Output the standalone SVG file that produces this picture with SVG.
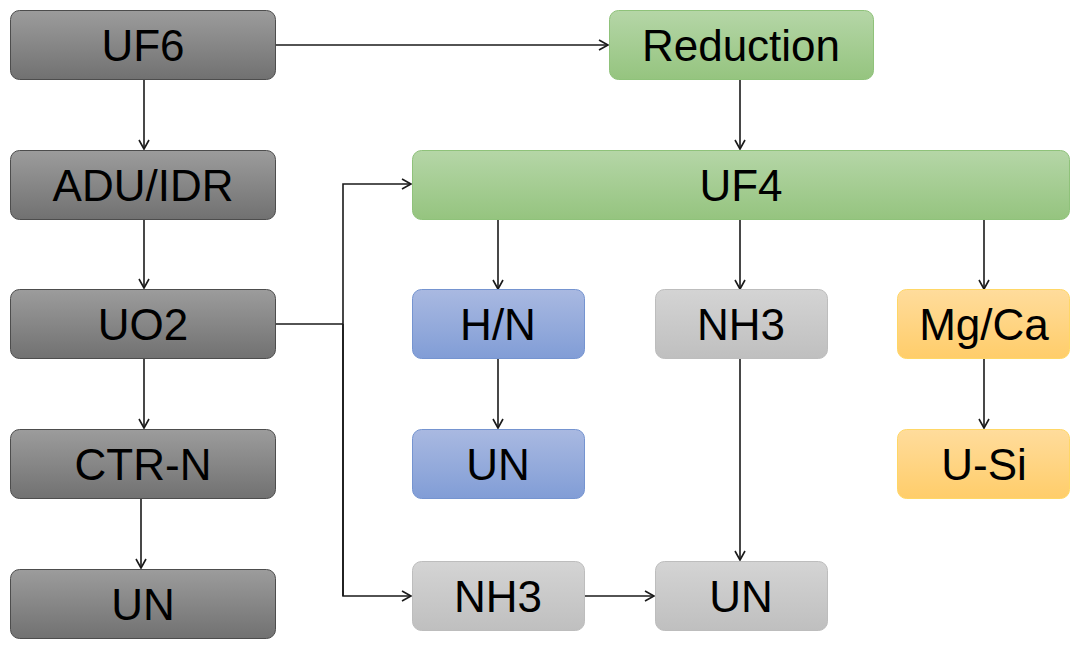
<svg xmlns="http://www.w3.org/2000/svg" width="1073" height="649" viewBox="0 0 1073 649">
<style>
text{font-family:"Liberation Sans",Arial,sans-serif;font-size:44px;fill:#000;text-anchor:middle}
.dark{fill:url(#gDark);stroke:#4d4d4d;stroke-width:1}
.green{fill:url(#gGreen);stroke:#8fc27a;stroke-width:1}
.blue{fill:url(#gBlue);stroke:#7594d0;stroke-width:1}
.grey{fill:url(#gGrey);stroke:#bdbdbd;stroke-width:1}
.orange{fill:url(#gOrange);stroke:#ffd766;stroke-width:1}
.edge{fill:none;stroke:#1a1a1a;stroke-width:1.6}
.arr{fill:none;stroke:#1a1a1a;stroke-width:1.6;marker-end:url(#ah)}
</style>
<defs>
<linearGradient id="gDark" x1="0" y1="0" x2="0" y2="1"><stop offset="0" stop-color="#9c9c9c"/><stop offset="1" stop-color="#717171"/></linearGradient>
<linearGradient id="gGreen" x1="0" y1="0" x2="0" y2="1"><stop offset="0" stop-color="#b5d6a7"/><stop offset="1" stop-color="#95c47f"/></linearGradient>
<linearGradient id="gBlue" x1="0" y1="0" x2="0" y2="1"><stop offset="0" stop-color="#a9b9e1"/><stop offset="1" stop-color="#819dd6"/></linearGradient>
<linearGradient id="gGrey" x1="0" y1="0" x2="0" y2="1"><stop offset="0" stop-color="#d4d4d4"/><stop offset="1" stop-color="#bfbfbf"/></linearGradient>
<linearGradient id="gOrange" x1="0" y1="0" x2="0" y2="1"><stop offset="0" stop-color="#ffdc9c"/><stop offset="1" stop-color="#ffcd6a"/></linearGradient>
<marker id="ah" markerWidth="12" markerHeight="12" refX="10" refY="6" orient="auto" markerUnits="userSpaceOnUse">
<path d="M1,1 L10,6 L1,11" fill="none" stroke="#1a1a1a" stroke-width="1.6"/>
</marker>
</defs>
<g id="connectors">
<path class="arr" d="M276,45 H608"/>
<path class="arr" d="M144,80 V149"/>
<path class="arr" d="M144,219 V288"/>
<path class="arr" d="M144,358 V428"/>
<path class="arr" d="M141,498 V568"/>
<path class="edge" d="M276,324 H343"/>
<path class="arr" d="M343,596 V184 H411"/>
<path class="arr" d="M343,324 V596 H411"/>
<path class="arr" d="M740,79 V149"/>
<path class="arr" d="M498,219 V289"/>
<path class="arr" d="M740,219 V289"/>
<path class="arr" d="M984,219 V289"/>
<path class="arr" d="M498,358 V428"/>
<path class="arr" d="M740,358 V560"/>
<path class="arr" d="M984,358 V428"/>
<path class="arr" d="M585,596 H654"/>
</g>
<g id="n-uf6"><rect class="dark" x="10.5" y="10.5" width="265" height="69" rx="9"/><text x="143" y="61">UF6</text></g>
<g id="n-adu"><rect class="dark" x="10.5" y="150.5" width="265" height="69" rx="9"/><text x="143" y="201">ADU/IDR</text></g>
<g id="n-uo2"><rect class="dark" x="10.5" y="289.5" width="265" height="69" rx="9"/><text x="143" y="340">UO2</text></g>
<g id="n-ctrn"><rect class="dark" x="10.5" y="429.5" width="265" height="69" rx="9"/><text x="143" y="480">CTR-N</text></g>
<g id="n-un1"><rect class="dark" x="10.5" y="569.5" width="265" height="69" rx="9"/><text x="143" y="620">UN</text></g>
<g id="n-red"><rect class="green" x="609.5" y="10.5" width="264" height="69" rx="9"/><text x="741" y="61">Reduction</text></g>
<g id="n-uf4"><rect class="green" x="412.5" y="150.5" width="657" height="69" rx="9"/><text x="741" y="201">UF4</text></g>
<g id="n-hn"><rect class="blue" x="412.5" y="289.5" width="172" height="69" rx="9"/><text x="498" y="340">H/N</text></g>
<g id="n-nh3a"><rect class="grey" x="655.5" y="289.5" width="172" height="69" rx="9"/><text x="741" y="340">NH3</text></g>
<g id="n-mgca"><rect class="orange" x="897.5" y="289.5" width="172" height="69" rx="9"/><text x="984" y="340">Mg/Ca</text></g>
<g id="n-un2"><rect class="blue" x="412.5" y="429.5" width="172" height="69" rx="9"/><text x="498" y="480">UN</text></g>
<g id="n-usi"><rect class="orange" x="897.5" y="429.5" width="172" height="69" rx="9"/><text x="984" y="480">U-Si</text></g>
<g id="n-nh3b"><rect class="grey" x="412.5" y="561.5" width="172" height="69" rx="9"/><text x="498" y="612">NH3</text></g>
<g id="n-un3"><rect class="grey" x="655.5" y="561.5" width="172" height="69" rx="9"/><text x="741" y="612">UN</text></g>
</svg>
